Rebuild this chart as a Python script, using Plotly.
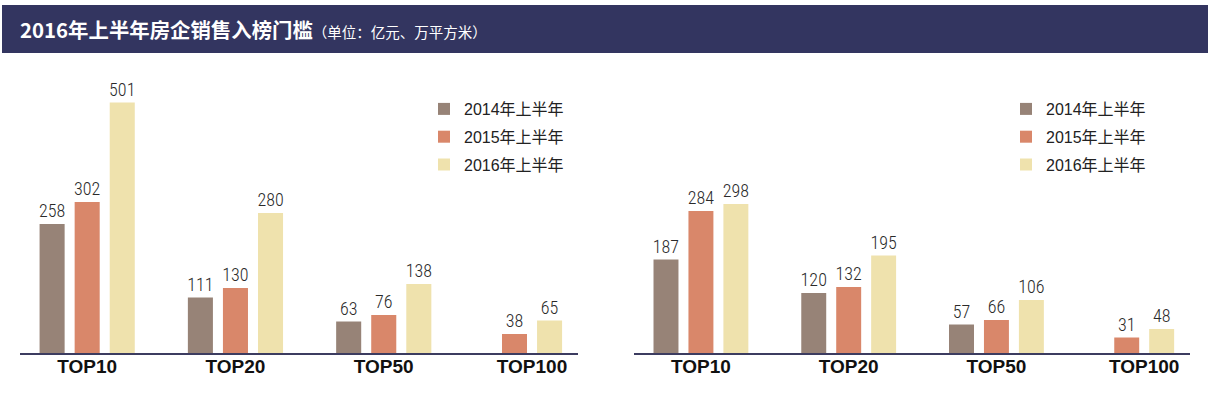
import plotly.graph_objects as go

# ---- data ----
categories = ["TOP10", "TOP20", "TOP50", "TOP100"]
series_names = ["2014年上半年", "2015年上半年", "2016年上半年"]
sales_2014 = [258, 111, 63, None]
sales_2015 = [302, 130, 76, 38]
sales_2016 = [501, 280, 138, 65]
area_2014 = [187, 120, 57, None]
area_2015 = [284, 132, 66, 31]
area_2016 = [298, 195, 106, 48]

title_main = "2016年上半年房企销售入榜门槛"
title_unit = "（单位：亿元、万平方米）"

colors = ["#978377", "#d9876a", "#efe2ad"]

W, H = 1210, 393
PITCH = 35 / 148
BARW = 25 / 148

fig = go.Figure()


def positions(series_list):
    """Centre the available bars of each category."""
    out = [[None] * len(categories) for _ in series_list]
    for i in range(len(categories)):
        present = [k for k, s in enumerate(series_list) if s[i] is not None]
        n = len(present)
        for j, k in enumerate(present):
            out[k][i] = i + (j - (n - 1) / 2) * PITCH
    return out


num_font = dict(family="Roboto Condensed, Liberation Sans Narrow, DejaVu Sans Condensed, sans-serif",
                size=18, color="#2a2a2a", weight=300)

for panel, (data, xa, ya, lg) in enumerate([
    ([sales_2014, sales_2015, sales_2016], "x", "y", "legend"),
    ([area_2014, area_2015, area_2016], "x2", "y2", "legend2"),
]):
    pos = positions(data)
    for k, s in enumerate(data):
        xs = [p for p, v in zip(pos[k], s) if v is not None]
        ys = [v for v in s if v is not None]
        fig.add_trace(go.Bar(
            x=xs, y=ys, width=BARW, name=series_names[k],
            marker=dict(color=colors[k], line=dict(width=0)),
            text=[str(v) for v in ys], textposition="outside",
            textfont=num_font, cliponaxis=False, constraintext="none",
            xaxis=xa, yaxis=ya, legend=lg, legendgroup=f"{lg}{k}",
            showlegend=True, hoverinfo="skip",
        ))

y_dom = [1 - 353 / H, 1 - 53 / H]
x_range = [-0.453, 3.31]

axis_common = dict(
    range=x_range, tickvals=list(range(len(categories))), ticktext=categories,
    showgrid=False, zeroline=False, showline=True, linecolor="#3c3c60",
    linewidth=2, ticks="", fixedrange=True, ticklabelstandoff=-5,
    tickfont=dict(family="Liberation Sans, Arial, sans-serif", size=19,
                  color="#111111", weight="bold"),
)
yaxis_common = dict(range=[0, 600], domain=y_dom, visible=False,
                    showgrid=False, zeroline=False, fixedrange=True)

legend_common = dict(
    font=dict(family="Liberation Sans, Noto Sans CJK SC, sans-serif", size=16,
              color="#222222"),
    bgcolor="rgba(0,0,0,0)", xanchor="left", yanchor="top",
    traceorder="grouped", tracegroupgap=4, itemclick=False,
)

fig.update_layout(
    width=W, height=H,
    margin=dict(l=0, r=0, t=0, b=0),
    paper_bgcolor="white", plot_bgcolor="white",
    barmode="overlay", showlegend=True,
    xaxis=dict(domain=[20 / W, 578 / W], anchor="y", **axis_common),
    xaxis2=dict(domain=[634 / W, 1190 / W], anchor="y2", **axis_common),
    yaxis=dict(anchor="x", **yaxis_common),
    yaxis2=dict(anchor="x2", **yaxis_common),
    legend=dict(x=(441 - 17) / W, y=1 - 92 / H, **legend_common),
    legend2=dict(x=(1023 - 17) / W, y=1 - 92 / H, **legend_common),
    shapes=[dict(type="rect", xref="paper", yref="paper",
                 x0=2 / W, x1=1208 / W, y0=1 - 53 / H, y1=1 - 5 / H,
                 fillcolor="#333560", line=dict(width=0), layer="below")],
    annotations=[dict(
        xref="paper", yref="paper", x=18 / W, y=1 - 29 / H,
        xanchor="left", yanchor="middle", showarrow=False,
        text=(f"<b>{title_main}</b>"
              f"<span style='font-size:14.5px'>{title_unit}</span>"),
        font=dict(family="Noto Sans CJK SC, sans-serif", size=20.4, color="white"),
    )],
)

fig.write_html("out.html", config={"displayModeBar": False},
               post_script="document.body.style.margin='0';document.body.style.overflow='hidden';")
